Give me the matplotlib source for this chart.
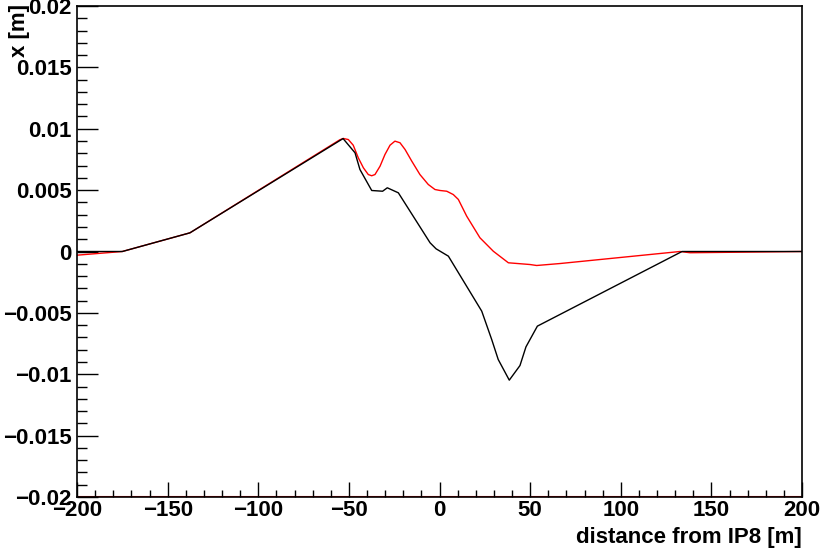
import matplotlib
matplotlib.use("Agg")
import matplotlib.pyplot as plt
from matplotlib.ticker import MultipleLocator

# Black curve
black_s = [-200, -175, -137.7, -53.2, -46.6, -43.9, -37.4, -31.4, -28.8, -22.7,
           -5.2, -1.9, 4.9, 23.3, 28.8, 32.4, 38.5, 44.4, 47.7, 54.0, 133.8, 200]
black_x = [0.0, 0.0, 0.00152, 0.0092, 0.00804, 0.00668, 0.00497, 0.00491, 0.00519, 0.00478,
           0.00071, 0.00022, -0.00038, -0.00486, -0.00717, -0.0088, -0.01048, -0.00929,
           -0.00777, -0.00608, 0.0, 0.0]

# Red curve
red_s = [-200, -175, -137.7, -55.0, -53.1, -50.3, -47.6, -44.8, -42.0, -39.3, -37.4, -35.6,
         -32.8, -30.1, -27.3, -24.6, -21.8, -19.0, -15.3, -10.8, -6.2, -2.5, 0.3, 4.0,
         7.6, 10.4, 15.0, 22.3, 29.7, 38.0, 49.9, 53.6, 66.5, 132.7, 138.2, 200]
red_x = [-0.0003, 0.0, 0.00152, 0.0091, 0.00921, 0.00912, 0.00866, 0.00763, 0.00682, 0.00627,
         0.00617, 0.00627, 0.00695, 0.0079, 0.00866, 0.00899, 0.00886, 0.00831, 0.00736,
         0.00627, 0.00546, 0.00505, 0.00497, 0.00491, 0.00464, 0.00424, 0.00288, 0.00112,
         0.00002, -0.00092, -0.00106, -0.00114, -0.00098, 0.0, -0.0001, 0.0]

x_ticks = [-200, -150, -100, -50, 0, 50, 100, 150, 200]
y_ticks = [-0.02, -0.015, -0.01, -0.005, 0, 0.005, 0.01, 0.015, 0.02]
y_labels = ["\u22120.02", "\u22120.015", "\u22120.01", "\u22120.005", "0",
            "0.005", "0.01", "0.015", "0.02"]
x_labels = ["\u2212200", "\u2212150", "\u2212100", "\u221250", "0", "50", "100", "150", "200"]

plt.rcParams['font.family'] = ['Liberation Sans', 'DejaVu Sans']
plt.rcParams['font.weight'] = 'bold'

fig = plt.figure(figsize=(8.21, 5.51), dpi=100)
ax = fig.add_axes([77/821, 1-497/551, (802-77)/821, (497-6)/551])

ax.axhline(-0.02, color='red', lw=1.5, zorder=1)
ax.plot(red_s, red_x, color='red', lw=1.0, zorder=2)
ax.plot(black_s, black_x, color='black', lw=1.0, zorder=3)

ax.set_xlim(-200, 200)
ax.set_ylim(-0.02, 0.02)
ax.set_xticks(x_ticks)
ax.set_xticklabels(x_labels, fontsize=16, fontweight='bold')
ax.set_yticks(y_ticks)
ax.set_yticklabels(y_labels, fontsize=16, fontweight='bold')
ax.xaxis.set_minor_locator(MultipleLocator(10))
ax.yaxis.set_minor_locator(MultipleLocator(0.001))
ax.tick_params(axis='y', which='major', direction='in', length=15, width=1, pad=4)
ax.tick_params(axis='y', which='minor', direction='in', length=7.5, width=1)
ax.tick_params(axis='x', which='major', direction='in', length=10.5, width=1, pad=2)
ax.tick_params(axis='x', which='minor', direction='in', length=5.2, width=1)
for sp in ax.spines.values():
    sp.set_linewidth(1.2)

fig.text(802/821, 1-537/551, "distance from IP8 [m]", ha='right', va='center',
         fontsize=16, fontweight='bold')
fig.text(19/821, 1-4/551, "x [m]", ha='center', va='top', rotation=90,
         fontsize=16, fontweight='bold')

fig.savefig("out.png", dpi=100)
